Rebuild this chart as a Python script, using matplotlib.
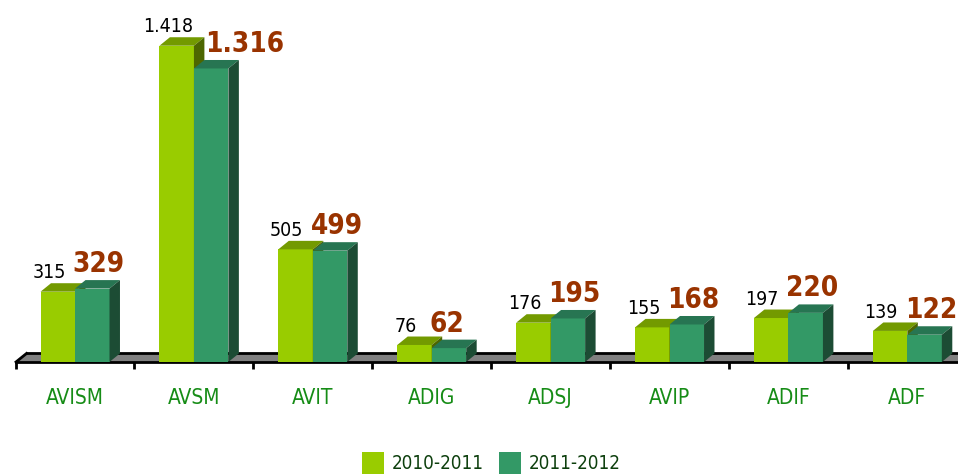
import numpy as np
import matplotlib
matplotlib.use('Agg')
import matplotlib.pyplot as plt
from matplotlib.patches import Polygon, Rectangle

plt.rcParams['font.family'] = ['DejaVu Sans']
plt.rcParams['font.stretch'] = 'condensed'

categories = ['AVISM', 'AVSM', 'AVIT', 'ADIG', 'ADSJ', 'AVIP', 'ADIF', 'ADF']
series_names = ['2010-2011', '2011-2012']
values_1011 = [315, 1418, 505, 76, 176, 155, 197, 139]
values_1112 = [329, 1316, 499, 62, 195, 168, 220, 122]

# colours: front, top, side
light = ('#99CC00', '#739A00', '#4D6600')
dark = ('#339966', '#277552', '#1C4C34')

def fmt(v):
    return f'{v:,}'.replace(',', '.')

fig = plt.figure(figsize=(9.58, 4.75), dpi=100)
ax = fig.add_axes([0, 0, 1, 1])
ax.set_xlim(-0.631, 7.426)
ax.set_ylim(-507, 1623)
ax.axis('off')

x = np.arange(len(categories))
w = 0.29     # bar width (category units)
dx = 0.088   # depth offset x
dy = 38      # depth offset y (value units)

# floor slab
fx0, fx1 = -0.496, 8.0
ax.add_patch(Polygon([(fx0, 0), (fx1, 0), (fx1 + dx, dy), (fx0 + dx, dy)],
                     closed=True, facecolor='#808080', edgecolor='none', zorder=1))
ax.plot([fx0, fx1], [0, 0], color='black', lw=2, zorder=2)
ax.plot([fx0 + dx, fx1 + dx], [dy, dy], color='black', lw=2, zorder=2)
ax.plot([fx0, fx0 + dx], [0, dy], color='black', lw=2, zorder=2)

# category ticks
ax.vlines(np.arange(len(categories) + 1) - 0.5, -33, 0, color='black', lw=2, zorder=2)


def box(x0, h, cols, z):
    ax.bar(x0, h, width=w, align='edge', color=cols[0], linewidth=0, zorder=z)
    ax.add_patch(Polygon([(x0, h), (x0 + w, h), (x0 + w + dx, h + dy), (x0 + dx, h + dy)],
                         closed=True, facecolor=cols[1], edgecolor='none', zorder=z))
    ax.add_patch(Polygon([(x0 + w, 0), (x0 + w + dx, dy), (x0 + w + dx, h + dy), (x0 + w, h)],
                         closed=True, facecolor=cols[2], edgecolor='none', zorder=z))


for i in range(len(categories)):
    v1, v2 = values_1011[i], values_1112[i]
    box(x[i] - w, v1, light, 3 + 2 * i)
    box(x[i], v2, dark, 4 + 2 * i)
    ax.text(x[i] - 0.22, v1 + dy + 22, fmt(v1),
            ha='center', va='baseline', fontsize=14, color='black', zorder=30)
    # brown label starts at the dark bar, pushed past the green side if that one is taller
    left = x[i] + (dx + 0.01 if v1 > v2 + 50 else -0.02)
    ax.text(left, v2 + dy + 36, fmt(v2),
            ha='left', va='baseline', fontsize=20, fontweight='bold',
            color='#993300', zorder=30)
    ax.text(x[i], -161, categories[i], ha='center', va='center',
            fontsize=15, color='#168C16', zorder=30)

handles = [Rectangle((0, 0), 1, 1, facecolor=light[0]),
           Rectangle((0, 0), 1, 1, facecolor=dark[0])]
fig.legend(handles, series_names, loc='upper left',
           bbox_to_anchor=(362 / 958, 1 - 452 / 475), ncol=2, frameon=False,
           fontsize=13.5, labelcolor='#0D3F0D', handlelength=1.15, handleheight=1.4,
           handletextpad=0.45, columnspacing=0.8, borderpad=0, borderaxespad=0)

fig.savefig('out.png', dpi=100)
